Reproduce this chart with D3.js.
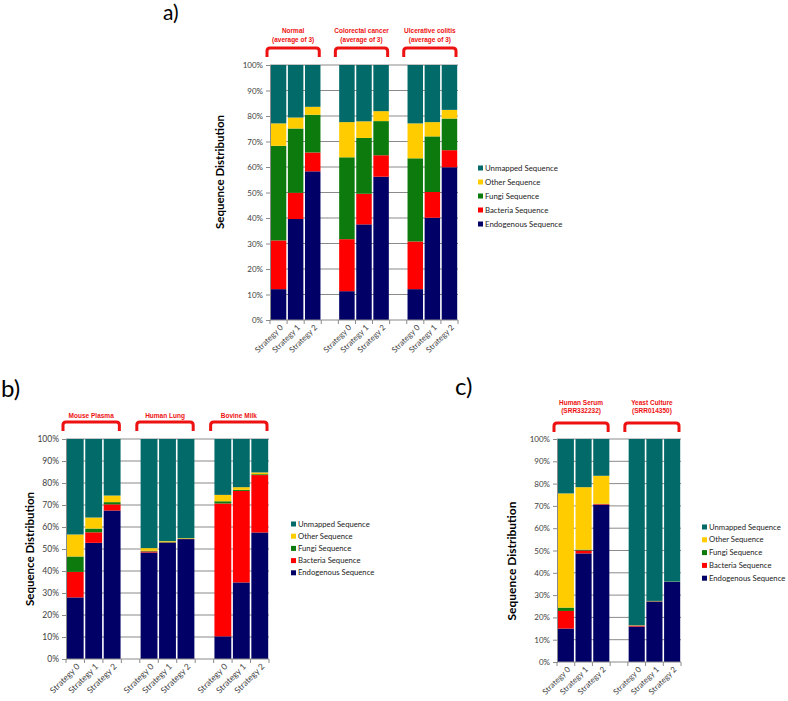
<!DOCTYPE html>
<html><head><meta charset="utf-8">
<script src="https://cdn.jsdelivr.net/npm/d3@7"></script>
<style>
html,body{margin:0;padding:0;background:#fff;}
svg{display:block;font-family:Lato,"Open Sans",sans-serif;}
</style></head>
<body>
<svg id="fig" width="788" height="701"></svg>
<script>
// ---------- shared ----------
const strategies = ["Strategy 0", "Strategy 1", "Strategy 2"];
const seriesNames = ["Endogenous Sequence", "Bacteria Sequence", "Fungi Sequence", "Other Sequence", "Unmapped Sequence"];
const seriesColors = ["#000066", "#ff0000", "#0d7a0d", "#ffcc00", "#036a6a"];
const yTickValues = [0, 10, 20, 30, 40, 50, 60, 70, 80, 90, 100];
const yTickLabels = ["0%", "10%", "20%", "30%", "40%", "50%", "60%", "70%", "80%", "90%", "100%"];

// ---------- panel a ----------
const groupsA = [["Normal", "(average of 3)"], ["Colorectal cancer", "(average of 3)"], ["Ulcerative colitis", "(average of 3)"]];
const endogenousA = [12.1, 39.6, 58.3, 11.3, 37.5, 56.2, 12.1, 40.1, 59.9];
const bacteriaA   = [19.1, 10.3, 7.4, 20.4, 12.0, 8.4, 18.7, 10.1, 6.7];
const fungiA      = [37.1, 25.2, 14.8, 32.1, 21.9, 13.4, 32.6, 21.8, 12.4];
const otherA      = [8.8, 4.3, 3.1, 13.8, 6.5, 3.9, 13.7, 5.6, 3.4];
const unmappedA   = [22.9, 20.6, 16.4, 22.4, 22.1, 18.1, 22.9, 22.4, 17.6];

// ---------- panel b ----------
const groupsB = [["Mouse Plasma"], ["Human Lung"], ["Bovine Milk"]];
const endogenousB = [28.0, 52.8, 67.5, 48.4, 52.8, 54.5, 10.3, 34.8, 57.5];
const bacteriaB   = [11.6, 4.8, 2.8, 0.5, 0.2, 0.1, 60.4, 41.6, 26.1];
const fungiB      = [7.0, 1.7, 1.0, 0.3, 0.3, 0.2, 1.0, 0.5, 0.4];
const otherB      = [10.0, 5.0, 3.0, 1.2, 0.3, 0.2, 2.9, 1.2, 0.8];
const unmappedB   = [43.4, 35.7, 25.7, 49.6, 46.4, 45.0, 25.4, 21.9, 15.2];

// ---------- panel c ----------
const groupsC = [["Human Serum", "(SRR332232)"], ["Yeast Culture", "(SRR014350)"]];
const endogenousC = [15.0, 48.7, 70.5, 15.9, 27.1, 35.9];
const bacteriaC   = [7.9, 1.3, 0.3, 0.4, 0.1, 0.05];
const fungiC      = [1.5, 0.4, 0.2, 0.1, 0.1, 0.05];
const otherC      = [51.2, 28.0, 12.5, 0.1, 0.1, 0.05];
const unmappedC   = [24.4, 21.6, 16.5, 83.5, 72.6, 63.95];

const svg = d3.select("#fig");

function drawPanel(cfg) {
  const g = svg.append("g");
  const keys = [];
  cfg.groups.forEach((grp, gi) => {
    if (gi > 0) keys.push("gap" + gi);
    strategies.forEach((s, si) => keys.push(gi + "-" + si));
  });
  const x = d3.scaleBand().domain(keys).range([cfg.x0, cfg.x1]).padding(0);
  const y = d3.scaleLinear().domain([0, 100]).range([cfg.y1, cfg.y0]);

  const rows = [];
  cfg.groups.forEach((grp, gi) => strategies.forEach((s, si) => {
    const i = gi * 3 + si;
    const r = { key: gi + "-" + si, label: s };
    cfg.series.forEach((arr, k) => r[seriesNames[k]] = arr[i]);
    rows.push(r);
  }));
  const stacked = d3.stack().keys(seriesNames)(rows);

  // gridlines
  g.append("g").selectAll("line").data(yTickValues.filter(v => v > 0)).join("line")
    .attr("x1", cfg.x0).attr("x2", cfg.x1)
    .attr("y1", d => y(d)).attr("y2", d => y(d))
    .attr("stroke", "#8a8a8a").attr("stroke-width", 1);

  // bars
  stacked.forEach((layer, k) => {
    g.append("g").attr("fill", seriesColors[k]).selectAll("rect").data(layer).join("rect")
      .attr("x", d => x(d.data.key) + 0.8)
      .attr("width", x.bandwidth() - 1.6)
      .attr("y", d => y(d[1]))
      .attr("height", d => Math.max(0, y(d[0]) - y(d[1])));
  });

  // left axis
  const yAxis = d3.axisLeft(y).tickValues(yTickValues).tickFormat((d, i) => yTickLabels[i]).tickSize(4).tickPadding(3);
  const ya = g.append("g").attr("transform", `translate(${cfg.x0},0)`).call(yAxis);
  ya.select(".domain").attr("stroke", "#8a8a8a");
  ya.selectAll(".tick line").attr("stroke", "#8a8a8a");
  ya.selectAll("text").attr("font-size", cfg.tickFont).attr("fill", "#404040")
    .attr("font-family", "Lato, sans-serif");

  // bottom axis line and ticks at slot boundaries
  g.append("line").attr("x1", cfg.x0).attr("x2", cfg.x1).attr("y1", cfg.y1).attr("y2", cfg.y1)
    .attr("stroke", "#8a8a8a");
  const bounds = keys.map(k => x(k)).concat([cfg.x1]);
  g.append("g").selectAll("line").data(bounds).join("line")
    .attr("x1", d => d).attr("x2", d => d).attr("y1", cfg.y1).attr("y2", cfg.y1 + 4)
    .attr("stroke", "#8a8a8a");

  // x labels
  g.append("g").selectAll("text").data(rows).join("text")
    .attr("transform", d => `translate(${x(d.key) + x.bandwidth() / 2 + 3},${cfg.y1 + 6}) rotate(-45)`)
    .attr("text-anchor", "end").attr("dy", "0.35em")
    .attr("font-size", cfg.tickFont).attr("fill", "#404040")
    .text(d => d.label);

  // y title
  g.append("text")
    .attr("transform", `translate(${cfg.ylabX},${cfg.ylabY}) rotate(-90)`)
    .attr("text-anchor", "middle").attr("dy", "0.35em")
    .attr("font-size", cfg.ylabFont).attr("font-weight", "bold").attr("fill", "#000")
    .text("Sequence Distribution");

  // legend
  const order = [4, 3, 2, 1, 0];
  const leg = g.append("g");
  order.forEach((k, j) => {
    const cy = cfg.legY + j * cfg.legStep;
    leg.append("rect").attr("x", cfg.legX).attr("y", cy - 2.5).attr("width", 5).attr("height", 5)
      .attr("fill", seriesColors[k]);
    leg.append("text").attr("x", cfg.legX + 7).attr("y", cy).attr("dy", "0.35em")
      .attr("font-size", cfg.legFont).attr("fill", "#222").text(seriesNames[k]);
  });

  // group brackets & headers
  cfg.groups.forEach((grp, gi) => {
    const bx0 = x(gi + "-0") - 3;
    const bx1 = x(gi + "-2") + x.bandwidth() - 2;
    const t = cfg.brTop, b = cfg.brBot, r = 3;
    g.append("path")
      .attr("d", `M${bx0},${b} L${bx0},${t + r} Q${bx0},${t} ${bx0 + r},${t} L${bx1 - r},${t} Q${bx1},${t} ${bx1},${t + r} L${bx1},${b}`)
      .attr("fill", "none").attr("stroke", "#ee1111").attr("stroke-width", 3);
    grp.forEach((line, li) => {
      g.append("text").attr("x", (bx0 + bx1) / 2).attr("y", cfg.hdrY + li * cfg.hdrStep)
        .attr("text-anchor", "middle").attr("dy", "0.35em")
        .attr("font-size", cfg.hdrFont).attr("font-weight", "bold").attr("fill", "#ee1111")
        .attr("font-family", "Liberation Sans, Arial, sans-serif")
        .text(line);
    });
  });

  // panel letter
  g.append("text").attr("x", cfg.letX).attr("y", cfg.letY).attr("font-size", cfg.letFont)
    .attr("fill", "#000").text(cfg.letter);
}

drawPanel({
  letter: "a)", letX: 163, letY: 20, letFont: 21,
  groups: groupsA, series: [endogenousA, bacteriaA, fungiA, otherA, unmappedA],
  x0: 270, x1: 458, y0: 65, y1: 320,
  tickFont: 8, ylabX: 220, ylabY: 172, ylabFont: 11.5,
  legX: 478, legY: 168, legStep: 14, legFont: 7.8,
  brTop: 48, brBot: 57, hdrY: 31, hdrStep: 8.5, hdrFont: 6.5
});
drawPanel({
  letter: "b)", letX: 1, letY: 397, letFont: 24,
  groups: groupsB, series: [endogenousB, bacteriaB, fungiB, otherB, unmappedB],
  x0: 66, x1: 269, y0: 439, y1: 659,
  tickFont: 8.5, ylabX: 30, ylabY: 549, ylabFont: 11.5,
  legX: 291, legY: 524, legStep: 12.2, legFont: 7.7,
  brTop: 422, brBot: 431, hdrY: 416, hdrStep: 8, hdrFont: 6.5
});
drawPanel({
  letter: "c)", letX: 455, letY: 395, letFont: 24,
  groups: groupsC, series: [endogenousC, bacteriaC, fungiC, otherC, unmappedC],
  x0: 557, x1: 681, y0: 439, y1: 662,
  tickFont: 8, ylabX: 512, ylabY: 561, ylabFont: 12,
  legX: 702, legY: 527, legStep: 12.8, legFont: 7.7,
  brTop: 423, brBot: 432, hdrY: 403, hdrStep: 8, hdrFont: 6.5
});
</script>
</body></html>
